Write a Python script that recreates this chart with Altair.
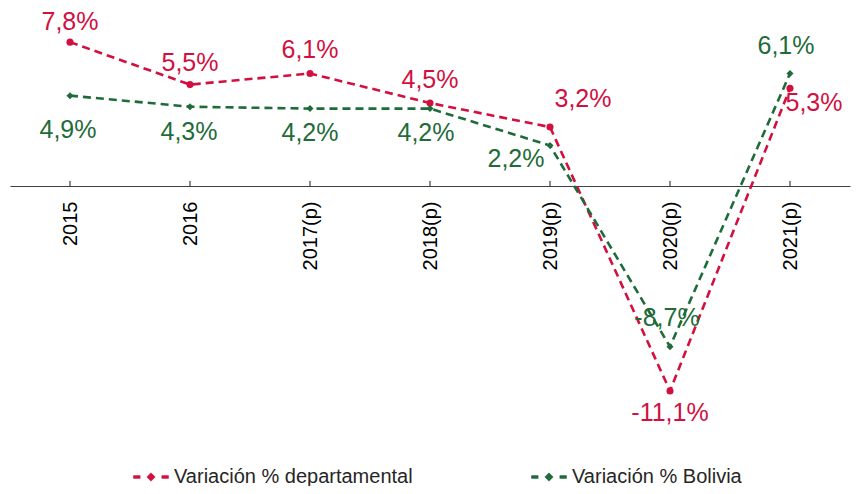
import altair as alt
import pandas as pd

categories = ["2015", "2016", "2017(p)", "2018(p)", "2019(p)", "2020(p)", "2021(p)"]
dep_values = [7.8, 5.5, 6.1, 4.5, 3.2, -11.1, 5.3]
bol_values = [4.9, 4.3, 4.2, 4.2, 2.2, -8.7, 6.1]
series_names = ["Variación % departamental", "Variación % Bolivia"]

# label offsets (pixels), style only
dep_dx = [0, 0, 0, 0, 33, 0, 24]
dep_dy = [-20, -22, -24, -23, -28, 22, 15]
bol_dx = [-2, -1, 0, -4, -34, -3, -4]
bol_dy = [34, 25, 24, 24, 14, -29, -28]

RED = "#D2103F"
GREEN = "#1F6B3A"
FONT = "Liberation Sans"

def fmt(v):
    return f"{v:.1f}".replace(".", ",") + "%"

rows = []
for c, v in zip(categories, dep_values):
    rows.append({"cat": c, "val": v, "serie": series_names[0], "lab": fmt(v)})
for c, v in zip(categories, bol_values):
    rows.append({"cat": c, "val": v, "serie": series_names[1], "lab": fmt(v)})
df = pd.DataFrame(rows)

x_scale = alt.Scale(type="point", padding=0.5, domain=categories)
x_enc = alt.X("cat:N", scale=x_scale,
              axis=alt.Axis(title=None, labelAngle=-90, ticks=False, offset=-240,
                            domainColor="#404040", domainWidth=1.2, labelFontSize=20,
                            labelFont=FONT, labelColor="#000000", labelPadding=15,
                            grid=False))
y_scale = alt.Scale(domain=[-13, 9], nice=False, zero=False)
y_enc = alt.Y("val:Q", scale=y_scale, axis=None)

legend_path = ("M-1,-0.08H-0.62V0.08H-1Z M0.62,-0.08H1V0.08H0.62Z "
               "M0,-0.24L0.24,0L0,0.24L-0.24,0Z")
color_scale = alt.Scale(domain=series_names, range=[RED, GREEN])
color_enc = alt.Color("serie:N", scale=color_scale,
                      legend=alt.Legend(title=None, orient="none", direction="horizontal",
                                        legendX=123, legendY=439, columnPadding=117,
                                        symbolType=legend_path, symbolSize=1225,
                                        symbolStrokeWidth=0.5, labelLimit=0,
                                        labelFont=FONT, labelFontSize=20,
                                        labelColor="#262626", labelOffset=5))

base = alt.Chart(df)

ticks = base.transform_filter(alt.datum.serie == series_names[0]).transform_calculate(
    z0="0", z1="0.28").mark_rule(color="#404040", strokeWidth=1.2).encode(
    x=x_enc, y=alt.Y("z0:Q", scale=y_scale, axis=None), y2="z1:Q")

lines = base.mark_line(strokeWidth=2.6, strokeDash=[8, 5]).encode(
    x=x_enc, y=y_enc, color=color_enc)

pts_dep = base.transform_filter(alt.datum.serie == series_names[0]).mark_point(
    filled=True, shape="circle", size=50, opacity=1).encode(
    x=x_enc, y=y_enc, color=color_enc)
pts_bol = base.transform_filter(alt.datum.serie == series_names[1]).mark_point(
    filled=True, shape="diamond", size=50, opacity=1).encode(
    x=x_enc, y=y_enc, color=color_enc)

text_layers = []
for i, c in enumerate(categories):
    for name, dxs, dys, col in ((series_names[0], dep_dx, dep_dy, RED),
                                 (series_names[1], bol_dx, bol_dy, GREEN)):
        t = base.transform_filter(
            (alt.datum.cat == c) & (alt.datum.serie == name)
        ).mark_text(font=FONT, fontSize=25, color=col, dx=dxs[i], dy=dys[i],
                    baseline="middle", align="center").encode(
            x=x_enc, y=y_enc, text="lab:N")
        text_layers.append(t)

chart = alt.layer(ticks, lines, pts_dep, pts_bol, *text_layers).properties(
    width=840, height=406,
    autosize=alt.AutoSizeParams(type="none"),
    padding={"left": 2, "top": 12, "right": 1, "bottom": 60},
).configure_view(stroke=None)

chart.save("out.html", embed_options={"renderer": "svg", "actions": False})
